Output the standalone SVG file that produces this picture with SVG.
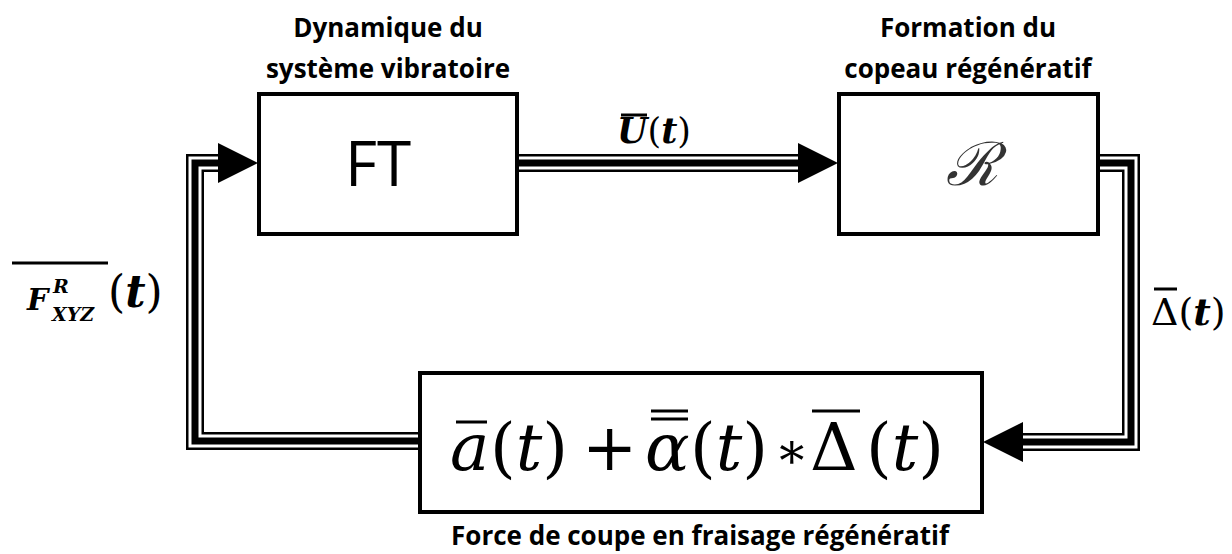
<svg xmlns="http://www.w3.org/2000/svg" width="1232" height="554" viewBox="0 0 1232 554">
<style>
.box{fill:#fff;stroke:#000;stroke-width:4}
.lbl{font-family:"Open Sans","Liberation Sans",sans-serif;font-weight:700;font-size:26px;fill:#000;text-anchor:middle}
.w1{fill:none;stroke:#000;stroke-width:18;stroke-linejoin:miter}
.w2{fill:none;stroke:#fff;stroke-width:13;stroke-linejoin:miter}
.w3{fill:none;stroke:#000;stroke-width:7;stroke-linejoin:miter}
.math{font-family:"DejaVu Serif","Liberation Serif",serif;fill:#000}
.bi{font-weight:700;font-style:italic}
.bar{stroke:#000;stroke-width:3}
</style>
<rect width="1232" height="554" fill="#fff"/>
<g id="connectors">
  <g id="c-top">
    <path class="w1" d="M519,163 H800"/><path class="w2" d="M519,163 H800"/><path class="w3" d="M519,163 H800"/>
    <polygon points="798,143 838,163 798,183" fill="#000"/>
  </g>
  <g id="c-left">
    <path class="w1" d="M420,441 H195 V163 H220"/><path class="w2" d="M420,441 H195 V163 H220"/><path class="w3" d="M420,441 H195 V163 H220"/>
    <polygon points="218,143 258,163 218,183" fill="#000"/>
  </g>
  <g id="c-right">
    <path class="w1" d="M1100,163 H1131 V442 H1022"/><path class="w2" d="M1100,163 H1131 V442 H1022"/><path class="w3" d="M1100,163 H1131 V442 H1022"/>
    <polygon points="1023,422 983,442 1023,462" fill="#000"/>
  </g>
</g>
<g id="ft">
  <rect class="box" x="259" y="94" width="258" height="140"/>
  <text x="378" y="186" font-family="Open Sans, Liberation Sans, sans-serif" font-size="62" text-anchor="middle">FT</text>
  <text class="lbl" x="388" y="37">Dynamique du</text>
  <text class="lbl" x="388" y="78">système vibratoire</text>
</g>
<g id="r">
  <rect class="box" x="839" y="94" width="259" height="140"/>
  <text x="972" y="185" font-family="DejaVu Serif, serif" font-style="italic" font-size="60" text-anchor="middle" fill="#333">ℛ</text>
  <text class="lbl" x="968" y="37">Formation du</text>
  <text class="lbl" x="968" y="78">copeau régénératif</text>
</g>
<g id="force">
  <rect class="box" x="420" y="373" width="562" height="139"/>
  <text class="math" y="470" font-size="66"><tspan x="450" font-style="italic">a</tspan><tspan x="490">(</tspan><tspan font-style="italic">t</tspan><tspan>)</tspan><tspan x="582">+</tspan><tspan x="645" font-style="italic">α</tspan><tspan x="690">(</tspan><tspan font-style="italic">t</tspan><tspan>)</tspan><tspan x="810">Δ</tspan><tspan x="866">(</tspan><tspan font-style="italic">t</tspan><tspan>)</tspan></text>
  <text class="math" x="775" y="468" font-size="50">∗</text>
  <line class="bar" x1="456" y1="422" x2="487" y2="422"/>
  <line class="bar" x1="651" y1="411" x2="688" y2="411"/>
  <line class="bar" x1="651" y1="419" x2="688" y2="419"/>
  <line class="bar" x1="812" y1="411" x2="860" y2="411"/>
  <text class="lbl" x="700" y="545">Force de coupe en fraisage régénératif</text>
</g>
<g id="lbl-u">
  <text class="math" x="617" y="143" font-size="35"><tspan class="bi">U</tspan><tspan>(</tspan><tspan class="bi">t</tspan><tspan>)</tspan></text>
  <line class="bar" x1="621" y1="115" x2="647" y2="115" stroke-width="2"/>
</g>
<g id="lbl-f">
  <line class="bar" x1="12" y1="263" x2="108" y2="263" stroke-width="2"/>
  <text class="math bi" x="27" y="310" font-size="30">F</text>
  <text class="math bi" x="53" y="293" font-size="19">R</text>
  <text class="math bi" x="52" y="321" font-size="19">XYZ</text>
  <text class="math" x="108" y="307" font-size="44"><tspan>(</tspan><tspan class="bi">t</tspan><tspan>)</tspan></text>
</g>
<g id="lbl-d">
  <text class="math" x="1151" y="325" font-size="38"><tspan>Δ</tspan><tspan>(</tspan><tspan class="bi">t</tspan><tspan>)</tspan></text>
  <line class="bar" x1="1154" y1="289" x2="1177" y2="289" stroke-width="2"/>
</g>
</svg>
